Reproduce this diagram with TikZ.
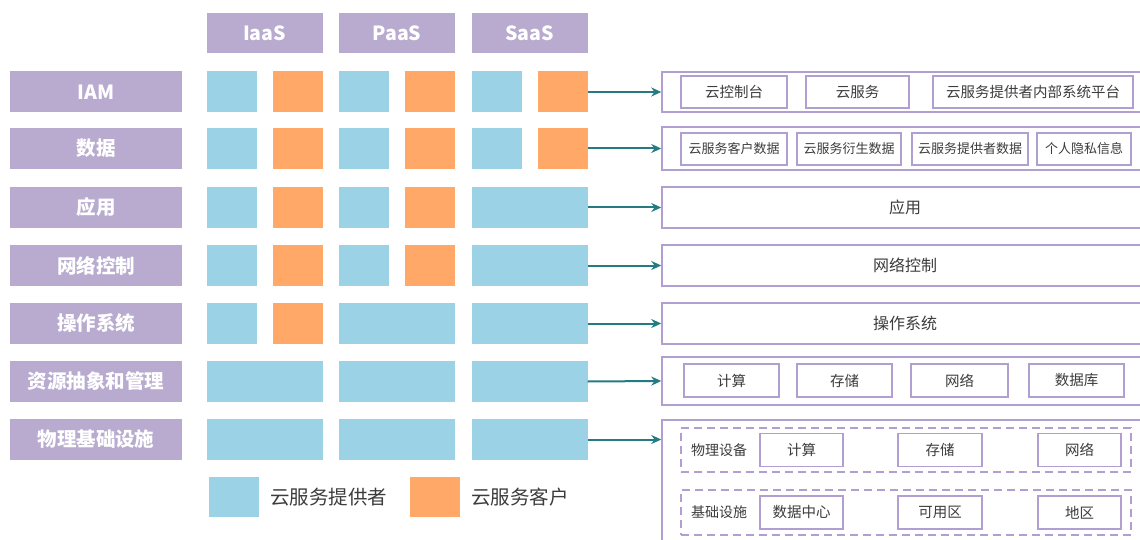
\documentclass[tikz,border=0pt]{standalone}
\usepackage{fontspec}
\setmainfont{Noto Sans CJK SC}
\usetikzlibrary{arrows.meta}
\definecolor{lblpurple}{HTML}{B8ABCF}
\definecolor{provblue}{HTML}{9CD2E6}
\definecolor{custorange}{HTML}{FFA868}
\definecolor{boxpurple}{HTML}{B09FD0}
\definecolor{arrteal}{HTML}{267A82}
\definecolor{txtgray}{HTML}{3C3C3C}
\begin{document}
\begin{tikzpicture}[x=1pt,y=-1pt,
  lbl/.style={fill=lblpurple, text=white, font=\bfseries\fontsize{19.5}{19.5}\selectfont, minimum height=41, minimum width=172, inner sep=0},
  hdr/.style={fill=lblpurple, text=white, font=\bfseries\fontsize{19.5}{19.5}\selectfont, minimum height=40, minimum width=116, inner sep=0},
  pb/.style={fill=provblue, minimum height=41, minimum width=50, inner sep=0},
  co/.style={fill=custorange, minimum height=41, minimum width=50, inner sep=0},
  full/.style={fill=provblue, minimum height=41, minimum width=116, inner sep=0},
  rbox/.style={draw=boxpurple, line width=1.5, fill=white, minimum width=486, text=txtgray, font=\fontsize{16}{16}\selectfont, inner sep=0},
  ibox/.style={draw=boxpurple, line width=1.5, fill=white, text=txtgray, font=\fontsize{14.5}{14.5}\selectfont, minimum height=32, inner sep=0},
  sbox/.style={ibox, font=\fontsize{13}{13}\selectfont},
  dbox/.style={draw=boxpurple, line width=1.5, dash pattern=on 8pt off 5pt, minimum width=450, inner sep=0},
  plain/.style={text=txtgray, font=\fontsize{14}{14}\selectfont, inner sep=0},
  legtxt/.style={text=txtgray, font=\fontsize{19.5}{19.5}\selectfont, inner sep=0, anchor=west},
  arr/.style={-{Stealth[length=10pt,width=9pt]}, draw=arrteal, line width=2},
]
\useasboundingbox (0,0) rectangle (1140,540);
\fill[white] (0,0) rectangle (1140,540);

% headers
\node[hdr] (iaas) at (264.5,33) {IaaS};
\node[hdr] (paas) at (397,33) {PaaS};
\node[hdr] (saas) at (529.5,33) {SaaS};

% left labels
\node[lbl] (l1) at (96,92) {IAM};
\node[lbl] (l2) at (96,148.5) {数据};
\node[lbl] (l3) at (96,207.5) {应用};
\node[lbl] (l4) at (96,265.5) {网络控制};
\node[lbl] (l5) at (96,323.5) {操作系统};
\node[lbl] (l6) at (96,381.5) {资源抽象和管理};
\node[lbl] (l7) at (96,439.5) {物理基础设施};

% row 1
\node[pb] (r1a) at (232,92) {};
\node[co] (r1b) at (297.5,92) {};
\node[pb] (r1c) at (364,92) {};
\node[co] (r1d) at (430,92) {};
\node[pb] (r1e) at (497,92) {};
\node[co] (r1f) at (562.5,92) {};
% row 2
\node[pb] (r2a) at (232,148.5) {};
\node[co] (r2b) at (297.5,148.5) {};
\node[pb] (r2c) at (364,148.5) {};
\node[co] (r2d) at (430,148.5) {};
\node[pb] (r2e) at (497,148.5) {};
\node[co] (r2f) at (562.5,148.5) {};
% row 3
\node[pb] (r3a) at (232,207.5) {};
\node[co] (r3b) at (297.5,207.5) {};
\node[pb] (r3c) at (364,207.5) {};
\node[co] (r3d) at (430,207.5) {};
\node[full] (r3e) at (529.5,207.5) {};
% row 4
\node[pb] (r4a) at (232,265.5) {};
\node[co] (r4b) at (297.5,265.5) {};
\node[pb] (r4c) at (364,265.5) {};
\node[co] (r4d) at (430,265.5) {};
\node[full] (r4e) at (529.5,265.5) {};
% row 5
\node[pb] (r5a) at (232,323.5) {};
\node[co] (r5b) at (297.5,323.5) {};
\node[full] (r5c) at (397,323.5) {};
\node[full] (r5e) at (529.5,323.5) {};
% row 6
\node[full] (r6a) at (264.5,381.5) {};
\node[full] (r6c) at (397,381.5) {};
\node[full] (r6e) at (529.5,381.5) {};
% row 7
\node[full] (r7a) at (264.5,439.5) {};
\node[full] (r7c) at (397,439.5) {};
\node[full] (r7e) at (529.5,439.5) {};

% legend
\node[fill=provblue, minimum width=50, minimum height=40, inner sep=0] (lgb) at (234,497) {};
\node[legtxt] (lgbt) at (270,497) {云服务提供者};
\node[fill=custorange, minimum width=50, minimum height=40, inner sep=0] (lgo) at (435,497) {};
\node[legtxt] (lgot) at (471,497) {云服务客户};

% right boxes
\node[rbox, minimum height=40] (b1) at (905,92) {};
\node[rbox, minimum height=43] (b2) at (905,148.5) {};
\node[rbox, minimum height=41] (b3) at (905,207.5) {应用};
\node[rbox, minimum height=41] (b4) at (905,265.5) {网络控制};
\node[rbox, minimum height=41] (b5) at (905,323.5) {操作系统};
\node[rbox, minimum height=48] (b6) at (905,381) {};
\node[rbox, minimum height=140] (b7) at (905,490) {};

% IAM inner
\node[ibox, minimum width=106] (b1a) at (734,92) {云控制台};
\node[ibox, minimum width=103] (b1b) at (857.5,92) {云服务};
\node[ibox, minimum width=200] (b1c) at (1033,92) {云服务提供者内部系统平台};
% data inner
\node[sbox, minimum width=106] (b2a) at (734,149) {云服务客户数据};
\node[sbox, minimum width=104] (b2b) at (849,149) {云服务衍生数据};
\node[sbox, minimum width=116] (b2c) at (970,149) {云服务提供者数据};
\node[sbox, minimum width=94] (b2d) at (1084,149) {个人隐私信息};
% resource inner
\node[ibox, minimum width=95, minimum height=33] (b6a) at (731.5,380.5) {计算};
\node[ibox, minimum width=95, minimum height=33] (b6b) at (844.5,380.5) {存储};
\node[ibox, minimum width=97, minimum height=33] (b6c) at (959.5,380.5) {网络};
\node[ibox, minimum width=95, minimum height=33] (b6d) at (1076.5,380.5) {数据库};
% physical inner
\node[dbox, minimum height=44] (d1) at (906,450) {};
\node[dbox, minimum height=45] (d2) at (906,512.5) {};
\node[plain] (d1l) at (719,450) {物理设备};
\node[ibox, minimum width=83, minimum height=33] (d1a) at (801.5,450) {计算};
\node[ibox, minimum width=84, minimum height=33] (d1b) at (940,450) {存储};
\node[ibox, minimum width=83, minimum height=33] (d1c) at (1079.5,450) {网络};
\node[plain] (d2l) at (719,512.5) {基础设施};
\node[ibox, minimum width=83, minimum height=33] (d2a) at (801.5,512.5) {数据中心};
\node[ibox, minimum width=84, minimum height=33] (d2b) at (940,512.5) {可用区};
\node[ibox, minimum width=83, minimum height=33] (d2c) at (1079.5,512.5) {地区};

% arrows
\draw[arr] (r1f.east) -- (b1.west);
\draw[arr] (r2f.east) -- (b2.west);
\draw[arr] (r3e.east) -- (b3.west);
\draw[arr] (r4e.east) -- (b4.west);
\draw[arr] (r5e.east) -- (b5.west);
\draw[arr] (r6e.east) -- (b6.west);
\draw[arr] (r7e.east) -- (b7.west |- r7e.east);
\end{tikzpicture}
\end{document}
